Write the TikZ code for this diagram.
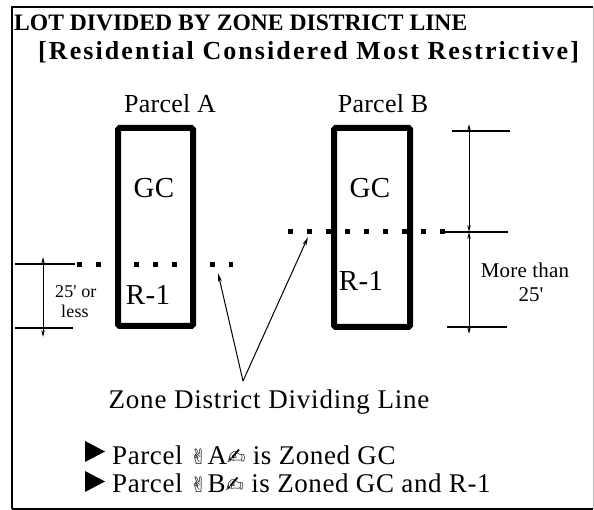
\documentclass[tikz,border=0pt]{standalone}
\usepackage{fontspec}
\setmainfont{Liberation Serif}
\newfontfamily\symfont{DejaVu Sans}
\usetikzlibrary{arrows.meta}
\newcommand{\fsz}[2]{\fontsize{#1}{#1}\selectfont\addfontfeatures{LetterSpace=#2}}
\newcommand{\hands}[1]{{\symfont\fontsize{21}{21}\selectfont ✌}#1{\symfont\fontsize{22}{22}\selectfont ✍}}
\begin{document}
\begin{tikzpicture}[x=1pt,y=-1pt,
  parcelbox/.style={draw,line width=6pt,rounded corners=1.5pt},
  zonedots/.style={line width=5pt,dash pattern=on 5pt off 14pt},
  dimline/.style={line width=1.2pt},
  dimarrow/.style={line width=1pt,{Stealth[length=7pt,width=3.5pt]}-{Stealth[length=7pt,width=3.5pt]}},
  ptr/.style={line width=1pt,-{Stealth[length=9pt,width=4pt]}},
  lbl/.style={inner sep=0pt},
  zonelbl/.style={inner sep=0pt,font=\fsz{29}{1}},
  small/.style={inner sep=0pt},
  bullet/.style={fill=black}]
\useasboundingbox (0,0) rectangle (594,510);
% frame
\draw[line width=2pt] (12,509) -- (12,7) -- (593,7);
\draw[line width=1.5pt] (12,509) -- (593,509);
\draw[line width=0.6pt,black!25] (593,7) -- (593,509);
% titles
\node[anchor=base west,inner sep=0pt] (t1) at (14,31)
  {\fontsize{23.6}{28}\selectfont\bfseries LOT DIVIDED BY ZONE DISTRICT LINE};
\node[anchor=base west,inner sep=0pt] (t2) at (38,60)
  {\bfseries\fsz{26}{8}[Residential Considered Most Restrictive]};
% parcels
\node[parcelbox,minimum width=75pt,minimum height=198pt,inner sep=0pt] (A) at (155.5,227) {};
\node[parcelbox,minimum width=76pt,minimum height=199pt,inner sep=0pt] (B) at (372,227.5) {};
\node[lbl,font=\fsz{26}{1},anchor=base] (pa) at (170,113) {Parcel A};
\node[lbl,font=\fsz{26}{1},anchor=base] (pb) at (383,113) {Parcel B};
\node[zonelbl] (gca) at (154,188) {GC};
\node[zonelbl] (ra) at (148,295) {R-1};
\node[zonelbl] (gcb) at (370,188) {GC};
\node[zonelbl] (rb) at (361,281) {R-1};
% zone dividing lines
\coordinate (da1) at (77,265);
\coordinate (da2) at (233,265);
\coordinate (db1) at (288,232);
\coordinate (db2) at (445,232);
\draw[zonedots] (da1) -- (da2);
\draw[zonedots] (db1) -- (db2);
% left dimension
\coordinate (l1a) at (15,264); \coordinate (l1b) at (75,264);
\coordinate (l2a) at (15,328); \coordinate (l2b) at (73,328);
\draw[dimline] (l1a) -- (l1b);
\draw[dimline] (l2a) -- (l2b);
\coordinate (lv1) at (43,257); \coordinate (lv2) at (43,337);
\draw[dimarrow] (lv1) -- (lv2);
\node[small,font=\fsz{18}{1},anchor=base west] (lt1) at (55,298) {25\textquotesingle{} or};
\node[small,font=\fsz{18}{1},anchor=base west] (lt2) at (61,318) {less};
% right dimension
\coordinate (r1a) at (452,131); \coordinate (r1b) at (510,131);
\coordinate (r2a) at (443,232); \coordinate (r2b) at (508,232);
\coordinate (r3a) at (447,327); \coordinate (r3b) at (507,327);
\draw[dimline] (r1a) -- (r1b);
\draw[dimline] (r2a) -- (r2b);
\draw[dimline] (r3a) -- (r3b);
\coordinate (rv1) at (469,124); \coordinate (rvm) at (469,232); \coordinate (rv2) at (469,334);
\draw[dimarrow] (rv1) -- (rvm);
\draw[dimarrow] (rvm) -- (rv2);
\node[small,font=\fsz{21}{1},anchor=base] (rt1) at (525,278) {More than};
\node[small,font=\fsz{21}{1},anchor=base] (rt2) at (531,302) {25\textquotesingle};
% pointer
\node[lbl,font=\fsz{27}{3},anchor=base] (zd) at (269,408) {Zone District Dividing Line};
\coordinate (apex) at (243,381);
\coordinate (tipa) at (218,273);
\coordinate (tipb) at (308,237);
\draw[ptr] (apex) -- (tipa);
\draw[ptr] (apex) -- (tipb);
% bullets
\fill[bullet] (85,441) -- (105,451.5) -- (85,462) -- cycle;
\fill[bullet] (85,471) -- (105,481.5) -- (85,492) -- cycle;
\node[lbl,font=\fsz{27}{2.2},anchor=base west] (b1) at (112,464)
  {Parcel \hands{A} is Zoned GC};
\node[lbl,font=\fsz{27}{2.2},anchor=base west] (b2) at (112,492)
  {Parcel \hands{B} is Zoned GC and R-1};
\end{tikzpicture}
\end{document}
